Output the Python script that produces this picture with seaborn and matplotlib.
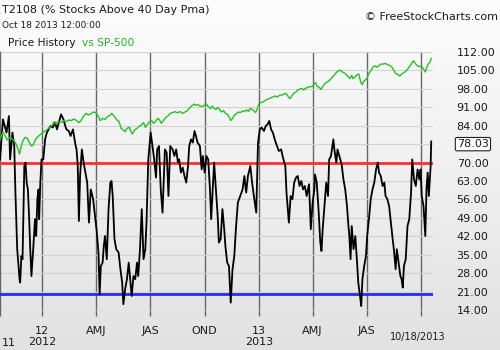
import numpy as np
import pandas as pd
import matplotlib
matplotlib.use("Agg")
import matplotlib.pyplot as plt
import matplotlib.dates as mdates
from matplotlib.colors import LinearSegmentedColormap
import seaborn as sns

# ---------------- data ----------------
start_date = "2011-10-22"

t2108_days = [0, 5, 8, 11, 15, 17, 21, 24, 26, 29, 33, 34, 36, 38, 41, 43, 45, 47, 49, 51,
              53, 56, 59, 61, 63, 65, 66, 68, 70, 73, 76, 79, 82, 85, 89, 93, 96, 100, 103, 107,
              110, 112, 116, 119, 123, 127, 129, 131, 133, 135, 138, 141, 145, 147, 150, 153, 157, 163, 166, 168,
              170, 173, 175, 177, 180, 183, 186, 188, 190, 193, 196, 200, 203, 206, 208, 211, 214, 217, 220, 222,
              225, 228, 231, 233, 236, 239, 242, 245, 247, 250, 254, 257, 260, 263, 265, 268, 271, 274, 278, 281,
              284, 287, 291, 294, 297, 300, 302, 305, 308, 311, 314, 317, 319, 322, 325, 328, 331, 333, 337, 340,
              342, 345, 348, 351, 354, 356, 361, 364, 367, 369, 372, 375, 378, 380, 383, 386, 389, 392, 395, 398,
              401, 405, 409, 412, 415, 418, 422, 425, 428, 432, 435, 438, 441, 445, 448, 451, 454, 457, 460, 464,
              467, 470, 474, 477, 481, 483, 487, 490, 493, 496, 499, 502, 505, 508, 511, 514, 517, 521, 524, 527,
              530, 531, 534, 537, 540, 542, 544, 547, 550, 553, 555, 558, 562, 564, 567, 569, 572, 576, 579, 582,
              585, 587, 589, 591, 593, 596, 599, 602, 604, 607, 609, 611, 614, 617, 619, 622, 625, 628, 631, 634,
              637, 639, 642, 645, 648, 650, 653, 656, 659, 662, 664, 667, 669, 672, 675, 677, 679, 681, 684, 687,
              690, 693, 695, 698, 701, 704, 707, 709, 711, 714, 717, 719, 721, 723, 726, 727]
t2108_values = [71.2, 86.4, 83.9, 81.4, 87.7, 71.2, 81.4, 76.3, 58.6, 37.1, 25.7, 24.4, 34.5, 33.3, 68.7, 70.0, 62.4, 59.8, 49.7, 37.1,
                26.9, 37.1, 48.5, 42.1, 56.1, 59.8, 48.5, 62.4, 71.2, 71.2, 78.8, 81.4, 82.6, 83.9, 83.3, 85.2, 82.6, 85.8, 88.3, 86.4,
                83.9, 82.6, 82.0, 80.1, 82.6, 77.0, 75.0, 69.3, 47.8, 64.9, 75.0, 70.0, 64.9, 62.4, 47.2, 59.8, 56.1, 44.0, 35.8, 20.0,
                30.7, 32.0, 38.3, 42.1, 33.3, 52.3, 62.4, 63.0, 57.3, 40.9, 37.1, 35.8, 29.5, 24.4, 16.2, 21.9, 25.7, 32.0, 24.4, 19.3,
                26.9, 25.7, 32.0, 26.9, 37.1, 52.3, 33.3, 37.1, 47.2, 71.2, 81.4, 76.3, 71.2, 64.3, 75.0, 76.3, 59.8, 51.0, 75.0, 73.8,
                57.3, 76.3, 75.0, 72.5, 75.0, 70.0, 71.2, 66.2, 68.1, 64.9, 62.4, 68.7, 76.3, 78.8, 77.6, 82.0, 79.5, 77.6, 76.3, 67.4,
                72.5, 66.2, 72.5, 71.2, 59.8, 48.5, 70.0, 59.8, 49.7, 39.6, 40.9, 52.3, 44.7, 38.3, 32.0, 30.7, 16.8, 29.5, 34.5, 45.9,
                54.8, 57.3, 59.8, 64.9, 58.6, 64.9, 68.7, 62.4, 57.3, 51.0, 77.6, 82.6, 83.3, 82.0, 83.9, 84.5, 85.8, 82.6, 81.4, 78.2,
                76.3, 74.4, 75.0, 71.9, 68.7, 58.6, 47.2, 57.3, 56.1, 62.4, 64.3, 64.9, 61.1, 63.0, 59.8, 61.1, 57.3, 61.8, 44.7, 54.8,
                59.8, 65.5, 62.4, 52.3, 39.6, 36.4, 44.7, 53.5, 62.4, 57.3, 71.2, 72.5, 78.8, 74.4, 70.0, 75.0, 72.5, 69.3, 63.6, 59.8,
                53.5, 47.2, 42.1, 33.3, 45.9, 37.1, 42.1, 32.0, 24.4, 19.3, 15.5, 25.7, 30.7, 34.5, 42.1, 48.5, 56.1, 59.8, 62.4, 67.4,
                70.0, 66.2, 64.9, 61.1, 62.4, 57.3, 56.1, 53.5, 47.2, 40.9, 37.1, 29.5, 37.1, 32.0, 26.9, 25.7, 22.5, 30.7, 33.3, 45.9,
                48.5, 58.6, 71.2, 63.6, 61.1, 67.4, 63.6, 67.4, 57.3, 53.5, 42.1, 59.8, 66.2, 57.3, 68.7, 78.03]

sp500_days = [0, 5, 8, 12, 17, 21, 25, 29, 33, 35, 38, 42, 46, 50, 53, 56, 60, 63, 67, 72,
              76, 80, 84, 88, 91, 94, 98, 102, 107, 111, 116, 120, 124, 128, 133, 136, 141, 145, 149, 153,
              157, 162, 166, 169, 173, 177, 181, 186, 188, 193, 197, 201, 204, 208, 211, 214, 218, 221, 223, 227,
              231, 234, 238, 242, 245, 248, 252, 256, 259, 263, 266, 269, 272, 276, 279, 283, 287, 291, 295, 299,
              304, 308, 312, 316, 319, 323, 327, 330, 333, 337, 341, 345, 348, 351, 355, 358, 361, 364, 367, 370,
              373, 377, 380, 383, 386, 389, 392, 395, 399, 402, 405, 409, 412, 415, 419, 422, 425, 428, 431, 434,
              437, 440, 444, 447, 450, 454, 457, 461, 464, 468, 471, 475, 479, 482, 486, 489, 492, 495, 499, 502,
              505, 509, 512, 515, 519, 522, 526, 529, 532, 535, 538, 541, 545, 548, 552, 556, 559, 563, 566, 569,
              573, 576, 580, 584, 587, 590, 593, 595, 599, 602, 605, 608, 611, 613, 616, 619, 622, 626, 629, 632,
              636, 639, 643, 647, 650, 654, 657, 661, 664, 667, 671, 674, 677, 681, 684, 688, 691, 694, 697, 700,
              703, 707, 710, 713, 717, 720, 722, 725, 727]
sp500_values = [1254, 1304, 1284, 1254, 1270, 1258, 1244, 1214, 1170, 1204, 1244, 1270, 1264, 1234, 1218, 1224, 1258, 1270, 1284, 1298,
                1308, 1318, 1330, 1344, 1364, 1350, 1364, 1358, 1370, 1364, 1374, 1370, 1380, 1374, 1358, 1368, 1398, 1414, 1404, 1410,
                1422, 1418, 1394, 1370, 1384, 1378, 1394, 1404, 1414, 1394, 1374, 1362, 1324, 1314, 1304, 1324, 1330, 1304, 1290, 1314,
                1324, 1334, 1344, 1358, 1330, 1344, 1364, 1370, 1354, 1370, 1384, 1374, 1354, 1374, 1388, 1398, 1414, 1418, 1424, 1418,
                1424, 1414, 1422, 1430, 1444, 1458, 1470, 1462, 1468, 1458, 1454, 1464, 1470, 1454, 1442, 1458, 1444, 1438, 1450, 1438,
                1422, 1430, 1414, 1410, 1394, 1370, 1384, 1402, 1414, 1422, 1418, 1428, 1424, 1434, 1426, 1444, 1438, 1430, 1418, 1444,
                1474, 1478, 1484, 1490, 1498, 1502, 1508, 1514, 1518, 1512, 1522, 1524, 1530, 1534, 1514, 1502, 1518, 1534, 1542, 1554,
                1558, 1564, 1554, 1564, 1570, 1574, 1574, 1586, 1598, 1574, 1570, 1558, 1578, 1594, 1602, 1614, 1626, 1642, 1654, 1666,
                1674, 1664, 1658, 1646, 1634, 1622, 1642, 1622, 1634, 1646, 1650, 1602, 1586, 1606, 1614, 1626, 1654, 1674, 1694, 1698,
                1690, 1702, 1710, 1710, 1714, 1704, 1702, 1690, 1670, 1654, 1646, 1638, 1650, 1658, 1666, 1682, 1698, 1714, 1730, 1714,
                1702, 1694, 1698, 1686, 1662, 1694, 1710, 1722, 1744]

upper_level = 70
lower_level = 20
last_value = 78.03
y_ticks = [14, 21, 28, 35, 42, 49, 56, 63, 70, 77, 84, 91, 98, 105, 112]
quarter_dates = ["2012-01-01", "2012-04-01", "2012-07-01", "2012-10-01",
                 "2013-01-01", "2013-04-01", "2013-07-01", "2013-10-01"]
quarter_labels = ["12\n2012", "AMJ", "JAS", "OND", "13\n2013", "AMJ", "JAS", ""]
end_label = "10/18/2013"
first_year_label = "11"
title = "T2108 (% Stocks Above 40 Day Pma)"
timestamp = "Oct 18 2013 12:00:00"
# --------------------------------------------------------------------------

start = pd.Timestamp(start_date)
t_dates = start + pd.to_timedelta(t2108_days, unit="D")
s_dates = start + pd.to_timedelta(sp500_days, unit="D")

W, H = 500, 350
fig = plt.figure(figsize=(5, 3.5), dpi=100)

# background gradient
bg = fig.add_axes([0, 0, 1, 1], zorder=-10)
cmap = LinearSegmentedColormap.from_list("bg", ["#fdfdfd", "#e2e2e2"])
bg.imshow(np.linspace(0, 1, 256).reshape(-1, 1), aspect="auto", cmap=cmap,
          extent=[0, 1, 0, 1], origin="upper")
bg.set_axis_off()

left_px, right_px, top_px, bot_px = 0, 433, 52, 310
ax = fig.add_axes([left_px / W, 1 - bot_px / H, (right_px - left_px) / W, (bot_px - top_px) / H])
ax.patch.set_alpha(0)

ax.axhline(upper_level, color="#ff3030", lw=2, zorder=3)
ax.axhline(lower_level, color="#2a2af0", lw=2, zorder=3)
sns.lineplot(x=t_dates, y=t2108_values, ax=ax, color="black", linewidth=1.3, zorder=4)

ax2 = ax.twinx()
sns.lineplot(x=s_dates, y=sp500_values, ax=ax2, color="#22c422", linewidth=1.0)
ax2.set_ylim(234, 1782)
ax2.set_axis_off()

xmin = mdates.date2num(start)
xmax = mdates.date2num(start + pd.Timedelta(days=730))
ax.set_xlim(xmin, xmax)
ax.set_ylim(14, 112)

ax.yaxis.tick_right()
ax.set_yticks(y_ticks)
ax.set_yticklabels(["" if v == 77 else f"{v:.2f}" for v in y_ticks])
ax.tick_params(axis="y", length=0, pad=17, labelsize=8, labelcolor="#1a1a1a")

qd = mdates.date2num(pd.to_datetime(quarter_dates).to_pydatetime())
ax.set_xticks(qd)
ax.set_xticklabels(quarter_labels)
ax.set_xticks([xmin], minor=True)
ax.tick_params(axis="x", which="both", length=4.3, width=1, color="#666666",
               pad=7.0, labelsize=8, labelcolor="#1a1a1a", direction="out")
ax.grid(axis="y", color="#d2d2d2", lw=0.8)
ax.grid(axis="x", color="#666666", lw=1.0)
ax.set_axisbelow(True)
ax.set_xlabel("")
ax.set_ylabel("")
for s in ["top", "right", "bottom"]:
    ax.spines[s].set_visible(False)
ax.spines["left"].set_color("#666666")
ax.spines["left"].set_linewidth(1.0)

# current value box
ax.text(457 / 433, 77, f"{last_value:.2f}", transform=ax.get_yaxis_transform(),
        ha="left", va="center", fontsize=8, color="#1a1a1a",
        bbox=dict(boxstyle="round,pad=0.15", fc="white", ec="#222222", lw=0.8))

def ftext(x, y, s, **kw):
    fig.text(x / W, 1 - y / H, s, **kw)

ftext(2, 10, title, ha="left", va="center", fontsize=8.05, color="#1a1a1a")
ftext(2, 25, timestamp, ha="left", va="center", fontsize=6.5, color="#1a1a1a")
ftext(8, 43, "Price History", ha="left", va="center", fontsize=7.7, color="#1a1a1a")
ftext(82, 43, "vs SP-500", ha="left", va="center", fontsize=7.7, color="#22b422")
ftext(498, 17, "\u00a9 FreeStockCharts.com", ha="right", va="center", fontsize=8.0, color="#1a1a1a")
ftext(418, 337, end_label, ha="center", va="center", fontsize=7, color="#1a1a1a")
ftext(2, 343, first_year_label, ha="left", va="center", fontsize=8, color="#1a1a1a")

fig.savefig("out.png", dpi=100)
